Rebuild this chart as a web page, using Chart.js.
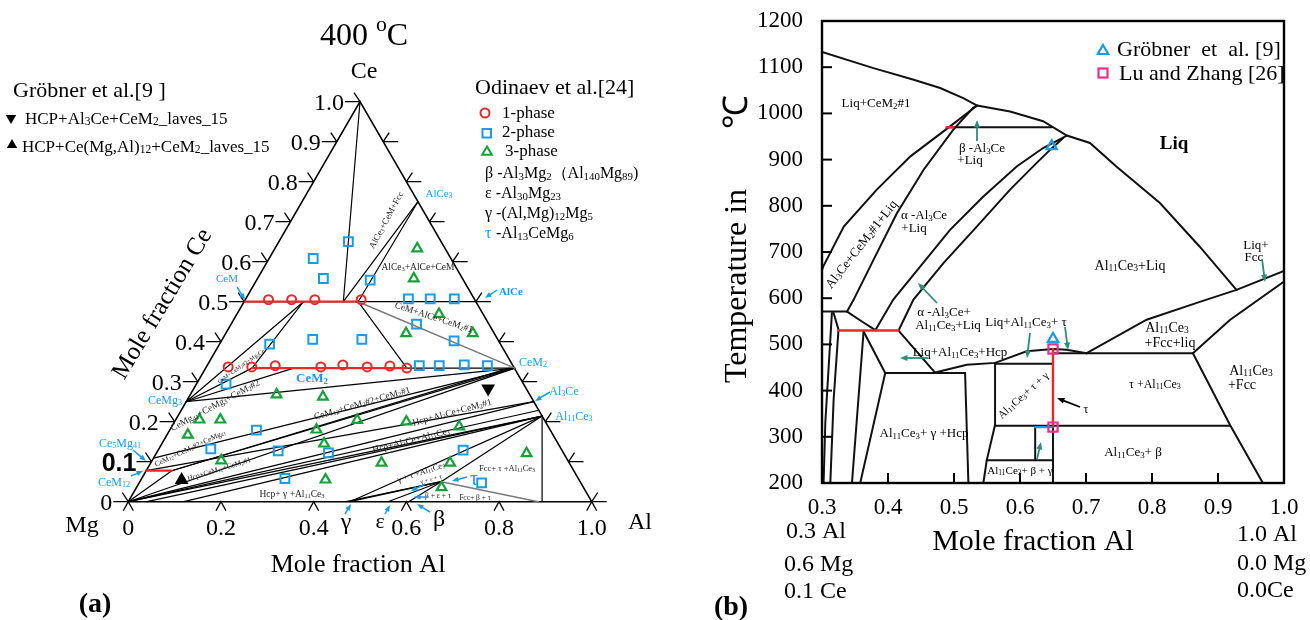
<!DOCTYPE html>
<html><head><meta charset="utf-8">
<script src="https://cdn.jsdelivr.net/npm/chart.js@4.4.1/dist/chart.umd.min.js"></script>
<style>
html,body{margin:0;padding:0;background:#fff;}
#wrap{position:relative;width:1310px;height:620px;overflow:hidden;}
#cA{position:absolute;left:0;top:0;}
#cB{position:absolute;left:655px;top:0;}
</style></head><body>
<div id="wrap"><canvas id="cA" width="655" height="620"></canvas><canvas id="cB" width="655" height="620"></canvas></div>
<script>
// ================= DATA: panel (a) ternary, compositions [x_Al, x_Ce] =================
const CE_TICKS = [0, 0.1, 0.2, 0.3, 0.4, 0.5, 0.6, 0.7, 0.8, 0.9, 1.0];
const AL_TICKS = [0, 0.2, 0.4, 0.6, 0.8, 1.0];
const TRIANGLE = [[0,0],[1,0],[0,1],[0,0]];
const ONE_PHASE = [[0.05,0.505],[0.10,0.505],[0.15,0.505],[0.25,0.505],
  [0.047,0.337],[0.098,0.337],[0.147,0.34],[0.247,0.337],[0.292,0.342],[0.347,0.337],[0.395,0.339],[0.434,0.334]];
const TWO_PHASE = [[0.15,0.65],[0.095,0.608],[0.142,0.558],[0.245,0.554],[0.351,0.507],[0.398,0.507],[0.45,0.507],
  [0.40,0.444],[0.502,0.402],[0.108,0.394],[0.195,0.406],[0.301,0.406],[0.458,0.34],[0.501,0.34],[0.554,0.342],
  [0.605,0.34],[0.064,0.294],[0.187,0.179],[0.112,0.132],[0.26,0.127],[0.371,0.122],[0.309,0.058],[0.658,0.129],[0.739,0.047]];
const THREE_PHASE = [[0.307,0.633],[0.337,0.558],[0.436,0.469],[0.389,0.421],[0.533,0.421],[0.186,0.268],[0.289,0.262],
  [0.051,0.205],[0.096,0.205],[0.045,0.167],[0.316,0.180],[0.392,0.204],[0.50,0.20],[0.62,0.188],[0.35,0.145],
  [0.149,0.103],[0.498,0.097],[0.646,0.097],[0.799,0.121],[0.398,0.055],[0.658,0.036]];
const GROBNER_DOWN = [[0.635,0.283]];
const GROBNER_UP = [[0.088,0.054]];
const RED_LINES_A = [
  [[0,0.5],[0.246,0.5]],
  [[0.1,0.334],[0.434,0.334]],
  [[0,0.0775],[0.055,0.0775]]
];
const GRAY_LINES_A = [
  [[0.246,0.5],[0.667,0.334]],
  [[0.65,0.05],[0.885,0]]
];
const BLACK_LINES_A = [
  [[0,1],[0.214,0.5]],
  [[0.25,0.75],[0.214,0.5]],
  [[0.25,0.75],[0.246,0.5]],
  [[0,0.5],[0.5,0.5]],
  [[0.246,0.5],[0.434,0.334]],
  [[0.1,0.334],[0.667,0.334]],
  [[0,0.25],[0.128,0.5]],
  [[0.1,0.334],[0.128,0.5]],
  [[0,0.25],[0.1,0.334]],
  [[0,0.25],[0.19,0.334]],
  [[0,0.25],[0.667,0.334]],
  [[0,0.109],[0.667,0.334]],
  [[0.055,0.0775],[0.667,0.334]],
  [[0.055,0.0775],[0.655,0.334]],
  [[0,0.0775],[0.75,0.25]],
  [[0,0],[0.055,0.0775]],
  [[0,0],[0.667,0.334]],
  [[0,0],[0.75,0.25]],
  [[0,0],[0.77,0.228]],
  [[0,0],[0.786,0.214]],
  [[0.04,0],[0.786,0.214]],
  [[0.12,0],[0.786,0.214]],
  [[0.478,0],[0.786,0.214]],
  [[0.478,0],[0.65,0.05]],
  [[0.47,0],[0.65,0.05]],
  [[0.56,0],[0.65,0.05]],
  [[0.605,0],[0.65,0.05]],
  [[0.65,0.05],[0.786,0.214]],
  [[0.786,0.214],[0.893,0]]
];

// ================= DATA: panel (b) isopleth [x_Al, T(°C)] =================
const X_TICKS_B = [0.3, 0.4, 0.5, 0.6, 0.7, 0.8, 0.9, 1.0];
const T_TICKS_B = [200, 300, 400, 500, 600, 700, 800, 900, 1000, 1100, 1200];
const LINES_B = [
  [[0.30,1133],[0.378,1098],[0.439,1073],[0.479,1055],[0.514,1033],[0.535,1017],[0.585,1004],[0.635,983],[0.671,952],[0.706,936],[0.746,885],[0.812,806],[0.872,712],[0.928,618]],
  [[0.535,1017],[0.494,972],[0.434,907],[0.383,835],[0.333,755],[0.302,669],[0.30,661]],
  [[0.535,1017],[0.529,1012],[0.499,965],[0.454,878],[0.4135,784],[0.378,683],[0.348,597],[0.338,571]],
  [[0.489,970],[0.648,970]],
  [[0.30,571],[0.338,571]],
  [[0.338,571],[0.361,549],[0.381,531]],
  [[0.381,531],[0.408,597],[0.449,669],[0.494,748],[0.5445,820],[0.595,885],[0.635,925],[0.671,952]],
  [[0.416,530],[0.4386,597],[0.484,676],[0.5345,755],[0.585,835],[0.6253,893],[0.6455,921],[0.665,946]],
  [[0.416,530],[0.4713,439]],
  [[0.4713,439],[0.5194,456],[0.5622,460],[0.610,485],[0.650,490],[0.6707,488.5],[0.701,481]],
  [[0.701,481],[0.7918,553.5],[0.8724,592],[0.928,618]],
  [[0.928,618],[1.0,659]],
  [[0.862,481],[0.918,553],[1.0,636]],
  [[0.65,481],[0.862,481]],
  [[0.862,481],[0.918,326],[0.968,200]],
  [[0.5622,458],[0.65,458]],
  [[0.5622,460],[0.5622,326],[0.5496,249],[0.5445,200]],
  [[0.5622,324],[0.918,324]],
  [[0.5496,249],[0.65,249]],
  [[0.623,324],[0.623,249]],
  [[0.65,321],[0.65,200]],
  [[0.3958,438],[0.5168,438]],
  [[0.5168,438],[0.5218,200]],
  [[0.3958,438],[0.3579,200]],
  [[0.363,528],[0.3958,438]],
  [[0.363,528],[0.3454,200]],
  [[0.315,568],[0.305,330],[0.3024,200]],
  [[0.3176,568],[0.325,532],[0.3176,380],[0.3126,200]]
];
const RED_B = [[[0.325,530],[0.416,530]], [[0.489,970],[0.499,970]], [[0.65,490],[0.65,321]]];
const BLUE_B = [[[0.623,321],[0.65,321]]];
const GROBNER_B = [[0.648,929],[0.65,512]];
const LU_B = [[0.65,490],[0.65,321]];

// ================= styles / helpers =================
const FONT = "'Liberation Serif','Times New Roman',serif";
const SANS = "'Liberation Sans',Arial,sans-serif";
const BLUE = '#1c9be3', RED = '#e52a2a', GREEN = '#16a03a', MAG = '#e2338a', TEAL = '#2f8c7a', GRAYL = '#7a7a7a';
Chart.defaults.font.family = FONT;
Chart.defaults.color = '#000';

function tern(p){ return {x: p[0] + p[1]/2, y: p[1]}; }
function xyB(p){ return {x: p[0], y: p[1]}; }
function lineDS(pts, color, width, conv){
  return {data: pts.map(conv), showLine: true, borderColor: color, borderWidth: width, pointRadius: 0,
          pointHoverRadius: 0, fill: false, tension: 0, borderCapStyle: 'round'};
}
function markDS(pts, style, color, r, conv, extra){
  return Object.assign({data: pts.map(conv), showLine: false, pointStyle: style, pointRadius: r,
    pointBorderColor: color, pointBackgroundColor: 'rgba(255,255,255,0)', pointBorderWidth: 2,
    borderColor: color, backgroundColor: 'rgba(0,0,0,0)'}, extra || {});
}
function parseRich(s){
  const segs = []; let i = 0, cur = '';
  while (i < s.length){
    const c = s[i];
    if ((c === '_' || c === '^') && s[i+1] === '{'){
      if (cur){ segs.push({t: cur, m: 'n'}); cur = ''; }
      const j = s.indexOf('}', i);
      segs.push({t: s.slice(i+2, j), m: c === '_' ? 'sub' : 'sup'});
      i = j + 1;
    } else { cur += c; i++; }
  }
  if (cur) segs.push({t: cur, m: 'n'});
  return segs;
}
function drawRich(ctx, s, x, y, o){
  o = o || {};
  const size = o.size || 12, fam = o.family || FONT, wt = o.bold ? 'bold ' : '';
  const segs = parseRich(s);
  ctx.save();
  ctx.translate(x, y);
  if (o.rot) ctx.rotate(o.rot * Math.PI / 180);
  ctx.textBaseline = 'alphabetic'; ctx.textAlign = 'left';
  let w = 0;
  segs.forEach(g => { g.size = g.m === 'n' ? size : size * 0.68; ctx.font = wt + g.size + 'px ' + fam; g.w = ctx.measureText(g.t).width; w += g.w; });
  let cx = o.align === 'left' ? 0 : (o.align === 'right' ? -w : -w/2);
  const base = size * 0.34;
  segs.forEach(g => {
    ctx.font = wt + g.size + 'px ' + fam; ctx.fillStyle = o.color || '#000';
    const dy = g.m === 'sub' ? size * 0.1 : (g.m === 'sup' ? -size * 0.42 : 0);
    ctx.fillText(g.t, cx, base + dy);
    cx += g.w;
  });
  ctx.restore();
}
function arrow(ctx, a, color, w, head){
  const [x1,y1,x2,y2] = a;
  ctx.save(); ctx.strokeStyle = color; ctx.fillStyle = color; ctx.lineWidth = w;
  const ang = Math.atan2(y2-y1, x2-x1);
  ctx.beginPath(); ctx.moveTo(x1,y1); ctx.lineTo(x2 - head*0.7*Math.cos(ang), y2 - head*0.7*Math.sin(ang)); ctx.stroke();
  ctx.beginPath(); ctx.moveTo(x2,y2);
  ctx.lineTo(x2 - head*Math.cos(ang-0.38), y2 - head*Math.sin(ang-0.38));
  ctx.lineTo(x2 - head*Math.cos(ang+0.38), y2 - head*Math.sin(ang+0.38));
  ctx.closePath(); ctx.fill(); ctx.restore();
}
function tri(ctx, x, y, r, down, fill, stroke, lw){
  ctx.save(); ctx.beginPath();
  const s = down ? -1 : 1;
  ctx.moveTo(x, y - s*r); ctx.lineTo(x + 0.866*r, y + s*0.5*r); ctx.lineTo(x - 0.866*r, y + s*0.5*r); ctx.closePath();
  if (fill){ ctx.fillStyle = fill; ctx.fill(); }
  if (stroke){ ctx.strokeStyle = stroke; ctx.lineWidth = lw; ctx.stroke(); }
  ctx.restore();
}

// ================= annotation layout (page pixels) =================
const TEXT_A = [
  {t:'400 ^{o}C', x:364, y:34, size:32},
  {t:'Ce', x:364, y:70, size:24},
  {t:'Mg', x:82, y:524, size:24},
  {t:'Al', x:640, y:521, size:24},
  {t:'Mole fraction Al', x:358, y:563, size:26},
  {t:'Mole fraction Ce', x:161, y:303, size:25, rot:-59},
  {t:'(a)', x:95, y:602, size:28, bold:true},
  {t:'Gröbner et al.[9 ]', x:13, y:90, size:22, align:'left'},
  {t:'HCP+Al_{3}Ce+CeM_{2}_laves_15', x:25, y:118, size:17, align:'left'},
  {t:'HCP+Ce(Mg,Al)_{12}+CeM_{2}_laves_15', x:22, y:146, size:17, align:'left'},
  {t:'Odinaev et al.[24]', x:475, y:87, size:22, align:'left'},
  {t:'1-phase', x:502, y:112, size:17, align:'left'},
  {t:'2-phase', x:502, y:131, size:17, align:'left'},
  {t:'3-phase', x:505, y:150, size:17, align:'left'},
  {t:'β -Al_{3}Mg_{2}（Al_{140}Mg_{89})', x:485, y:173, size:16, align:'left'},
  {t:'ε -Al_{30}Mg_{23}', x:485, y:193, size:16, align:'left'},
  {t:'γ -(Al,Mg)_{12}Mg_{5}', x:485, y:213, size:16, align:'left'},
  {t:'τ', x:485, y:233, size:16, align:'left', color:BLUE},
  {t:'-Al_{13}CeMg_{6}', x:496, y:233, size:16, align:'left'},
  {t:'AlCe_{3}', x:439, y:193, size:11, color:BLUE},
  {t:'CeM', x:227, y:278, size:11, color:BLUE},
  {t:'AlCe', x:511, y:291, size:11, color:BLUE, bold:true},
  {t:'CeM_{2}', x:312, y:378, size:13, color:BLUE, bold:true},
  {t:'CeM_{2}', x:533, y:362, size:12, color:BLUE},
  {t:'Al_{3}Ce', x:564, y:391, size:12, color:BLUE},
  {t:'Al_{11}Ce_{3}', x:574, y:416, size:12, color:BLUE},
  {t:'CeMg_{3}', x:165, y:400, size:12, color:BLUE},
  {t:'Ce_{5}Mg_{41}', x:120, y:443, size:12, color:BLUE},
  {t:'CeM_{12}', x:114, y:482, size:12, color:BLUE},
  {t:'τ', x:474, y:478, size:20, color:BLUE},
  {t:'γ', x:346, y:521, size:24}, {t:'ε', x:380, y:521, size:22}, {t:'β', x:439, y:518, size:24},
  {t:'AlCe_{3}+CeM+Fcc', x:386, y:220, size:9, rot:-62, color:'#222'},
  {t:'AlCe_{3}+AlCe+CeM', x:418, y:267, size:9.5, color:'#222'},
  {t:'CeM+AlCe+CeM_{2}#1', x:434, y:317, size:9.5, rot:18, color:'#222'},
  {t:'CeM+CeM_{2}#2+Mg_{3}Ce', x:241, y:366, size:6, rot:-35, color:'#222'},
  {t:'CeMg_{41}+CeMg_{3}+CeM_{2}#2', x:215, y:405, size:9.5, rot:-28, color:'#222'},
  {t:'CeM_{12}+CeM_{2}#2+CeMg_{41}', x:190, y:448, size:7.5, rot:-25, color:'#222'},
  {t:'Hcp+CeM_{12}+CeM_{2}#1', x:219, y:469, size:7.5, rot:-17, color:'#222'},
  {t:'CeM_{12}+CeM_{2}#2+CeM_{2}#1', x:362, y:403, size:9.5, rot:-16, color:'#222'},
  {t:'Hcp+Al_{3}Ce+CeM_{2}#1', x:452, y:412, size:9.5, rot:-15, color:'#222'},
  {t:'Hcp+Al_{3}Ce+Al_{11}Ce_{3}', x:411, y:440, size:9.5, rot:-14, color:'#222'},
  {t:'Hcp+ γ +Al_{11}Ce_{3}', x:292, y:494, size:9.5, color:'#222'},
  {t:'γ + τ +Al_{11}Ce_{3}', x:421, y:472, size:8.5, rot:-18, color:'#222'},
  {t:'γ + ε + τ', x:431, y:479, size:6.5, rot:-15, color:'#222'},
  {t:'β + ε + τ', x:438, y:495, size:7.5, color:'#222'},
  {t:'Fcc+ β + τ', x:475, y:497, size:7.5, color:'#222'},
  {t:'Fcc+ τ +Al_{11}Ce_{3}', x:507, y:468, size:8.5, color:'#222'}
];
const ARROWS_A = [[237,287,245,300],[497,290,485,298],[550,392,535,401],[133,450,146,461],[131,476,143,471],
  [467,477,452,481],[345,514,351,504],[385,514,390,505],[430,512,417,504],[425,484,411,491],[428,497,414,497]];
const TEXT_B = [
  {t:'Liq+CeM_{2}#1', x:876, y:103, size:13},
  {t:'β -Al_{3}Ce', x:982, y:148, size:13}, {t:'+Liq', x:970, y:160, size:13},
  {t:'α -Al_{3}Ce', x:924, y:215, size:13}, {t:'+Liq', x:914, y:228, size:13},
  {t:'Al_{3}Ce+CeM_{2}#1+Liq', x:861, y:244, size:13, rot:-52},
  {t:'α -Al_{3}Ce+', x:944, y:312, size:13}, {t:'Al_{11}Ce_{3}+Liq', x:948, y:325, size:13},
  {t:'Liq+Al_{11}Ce_{3}+Hcp', x:960, y:352, size:13},
  {t:'Liq', x:1174, y:143, size:19, bold:true},
  {t:'Al_{11}Ce_{3}+Liq', x:1130, y:265, size:14},
  {t:'Liq+', x:1256, y:245, size:13}, {t:'Fcc', x:1254, y:257, size:13},
  {t:'Liq+Al_{11}Ce_{3}+ τ', x:1026, y:322, size:13},
  {t:'Al_{11}Ce_{3}', x:1167, y:327, size:14}, {t:'+Fcc+liq', x:1170, y:342, size:14},
  {t:'Al_{11}Ce_{3}', x:1251, y:370, size:14}, {t:'+Fcc', x:1242, y:384, size:14},
  {t:'τ +Al_{11}Ce_{3}', x:1155, y:384, size:12},
  {t:'Al_{11}Ce_{3}+ τ + γ', x:1023, y:395, size:11, rot:-42},
  {t:'Al_{11}Ce_{3}+ γ +Hcp', x:924, y:433, size:13},
  {t:'Al_{11}Ce_{3}+ β', x:1133, y:452, size:13},
  {t:'Al_{11}Ce_{3}+ β + γ', x:1020, y:470, size:11},
  {t:'τ', x:1086, y:409, size:12},
  {t:'Mole fraction Al', x:1033, y:540, size:30},
  {t:'Temperature in', x:735, y:286, size:32, rot:-90},
  {t:'℃', x:735, y:112, size:34, rot:-90},
  {t:'0.3 Al', x:786, y:530, size:24, align:'left'}, {t:'0.6 Mg', x:784, y:563, size:24, align:'left'}, {t:'0.1 Ce', x:784, y:590, size:24, align:'left'},
  {t:'1.0 Al', x:1237, y:533, size:24, align:'left'}, {t:'0.0 Mg', x:1237, y:562, size:24, align:'left'}, {t:'0.0Ce', x:1237, y:589, size:24, align:'left'},
  {t:'(b)', x:731, y:605, size:28, bold:true},
  {t:'Gröbner  et  al. [9]', x:1117, y:49, size:22, align:'left'},
  {t:'Lu and Zhang [26]', x:1119, y:73, size:22, align:'left'}
];
const ARROWS_B = [[977,141,977,120,TEAL],[937,303,918,283,TEAL],[928,358,900,358,TEAL],[1030,333,1027,358,TEAL],
  [1065,327,1068,350,TEAL],[1080,407,1057,398,'#000'],[1037,459,1041,442,TEAL],[1262,259,1265,282,TEAL]];

// ================= panel (a) plugin =================
const ternDecor = {
  id: 'ternDecor',
  afterDraw(chart){
    const ctx = chart.ctx, xs = chart.scales.x, ys = chart.scales.y;
    const P = (al, ce) => [xs.getPixelForValue(al + ce/2), ys.getPixelForValue(ce)];
    ctx.save(); ctx.strokeStyle = '#000'; ctx.lineWidth = 1.3;
    CE_TICKS.forEach(c => {
      const [x, y] = P(0, c);
      ctx.beginPath(); ctx.moveTo(x - 15, y); ctx.lineTo(x, y); ctx.moveTo(x, y); ctx.lineTo(x - 6, y - 9); ctx.stroke();
      const lab = c === 0 ? '0' : c.toFixed(1);
      if (c === 0.1) drawRich(ctx, lab, x - 15, y + 1, {size: 25, bold: true, family: SANS, align: 'right'});
      else drawRich(ctx, lab, x - 16, y, {size: 24, align: 'right'});
      if (c < 1){
        const [xr, yr] = P(1 - c, c);
        ctx.beginPath(); ctx.moveTo(xr, yr); ctx.lineTo(xr + 15, yr); ctx.moveTo(xr, yr); ctx.lineTo(xr + 6, yr - 9); ctx.stroke();
      }
    });
    AL_TICKS.forEach(a => {
      const [x, y] = P(a, 0);
      ctx.beginPath(); ctx.moveTo(x - 5, y + 9); ctx.lineTo(x, y); ctx.lineTo(x + 5, y + 9); ctx.stroke();
      drawRich(ctx, a === 0 ? '0' : a.toFixed(1), x, y + 25, {size: 24});
    });
    ctx.restore();
    TEXT_A.forEach(o => drawRich(ctx, o.t, o.x, o.y, o));
    ARROWS_A.forEach(a => arrow(ctx, a, BLUE, 1.5, 7));
    tri(ctx, 11, 118, 6, true, '#000');
    tri(ctx, 12, 145, 6, false, '#000');
    ctx.save();
    ctx.strokeStyle = RED; ctx.lineWidth = 2; ctx.beginPath(); ctx.arc(485, 113, 4.5, 0, 2*Math.PI); ctx.stroke();
    ctx.strokeStyle = BLUE; ctx.strokeRect(482.5, 129, 8.5, 8.5);
    ctx.restore();
    tri(ctx, 487, 152, 5.5, false, null, GREEN, 2);
  }
};

// ================= panel (b) plugin =================
const isoDecor = {
  id: 'isoDecor',
  afterDraw(chart){
    const ctx = chart.ctx, a = chart.chartArea, xs = chart.scales.x, ys = chart.scales.y;
    ctx.save(); ctx.strokeStyle = '#000'; ctx.lineWidth = 2.4;
    ctx.strokeRect(a.left, a.top, a.right - a.left, a.bottom - a.top);
    ctx.lineWidth = 2;
    X_TICKS_B.slice(1, -1).forEach(v => { const x = xs.getPixelForValue(v); ctx.beginPath(); ctx.moveTo(x, a.bottom); ctx.lineTo(x, a.bottom - 10); ctx.stroke(); });
    T_TICKS_B.slice(1, -1).forEach(v => { const y = ys.getPixelForValue(v); ctx.beginPath(); ctx.moveTo(a.left, y); ctx.lineTo(a.left + 10, y); ctx.stroke(); });
    ctx.restore();
    const off = 655;
    TEXT_B.forEach(o => drawRich(ctx, o.t, o.x - off, o.y, o));
    ARROWS_B.forEach(r => arrow(ctx, [r[0]-off, r[1], r[2]-off, r[3]], r[4], 1.8, 8));
    tri(ctx, 1103 - off, 51, 6, false, null, BLUE, 2.2);
    ctx.save(); ctx.strokeStyle = MAG; ctx.lineWidth = 2.2; ctx.strokeRect(1098.5 - off, 68.5, 9, 9); ctx.restore();
  }
};

// ================= charts =================
new Chart(document.getElementById('cA'), {
  type: 'scatter',
  data: {datasets: [
    markDS(GROBNER_DOWN, 'triangle', '#000', 6, tern, {pointBackgroundColor: '#000', pointRotation: 180}),
    markDS(GROBNER_UP, 'triangle', '#000', 6, tern, {pointBackgroundColor: '#000'}),
    markDS(ONE_PHASE, 'circle', RED, 4.5, tern),
    markDS(TWO_PHASE, 'rect', BLUE, 6.2, tern),
    markDS(THREE_PHASE, 'triangle', GREEN, 5.6, tern, {pointBorderWidth: 2.2}),
    ...RED_LINES_A.map(l => lineDS(l, RED, 2.3, tern)),
    ...GRAY_LINES_A.map(l => lineDS(l, GRAYL, 1.5, tern)),
    ...BLACK_LINES_A.map(l => lineDS(l, '#000', 1.2, tern)),
    lineDS(TRIANGLE, '#000', 1.6, tern)
  ]},
  options: {
    responsive: false, animation: false, events: [],
    layout: {padding: 0, autoPadding: false},
    plugins: {legend: {display: false}, tooltip: {enabled: false}},
    scales: {
      x: {type: 'linear', display: false, min: -0.27687, max: 1.13659},
      y: {type: 'linear', display: false, min: -0.29575, max: 1.25425}
    }
  },
  plugins: [ternDecor]
});

new Chart(document.getElementById('cB'), {
  type: 'scatter',
  data: {datasets: [
    markDS(GROBNER_B, 'triangle', BLUE, 6, xyB, {pointBorderWidth: 2.2}),
    markDS(LU_B, 'rect', MAG, 6.5, xyB, {pointBorderWidth: 2.2}),
    ...RED_B.map(l => lineDS(l, RED, 2.4, xyB)),
    ...BLUE_B.map(l => lineDS(l, BLUE, 2.4, xyB)),
    ...LINES_B.map(l => lineDS(l, '#111', 2, xyB))
  ]},
  options: {
    responsive: false, animation: false, events: [],
    layout: {padding: {top: 21, right: 26, left: 0, bottom: 0}, autoPadding: false},
    plugins: {legend: {display: false}, tooltip: {enabled: false}},
    scales: {
      x: {type: 'linear', min: 0.3, max: 1.0,
          afterFit(s){ s.height = 137; s.paddingLeft = 0; s.paddingRight = 0; },
          afterBuildTicks(s){ s.ticks = X_TICKS_B.map(v => ({value: v})); },
          ticks: {callback: v => Number(v).toFixed(1), font: {family: FONT, size: 23}, color: '#000', padding: 11, maxRotation: 0, autoSkip: false},
          grid: {display: false, drawTicks: false}, border: {display: false}},
      y: {type: 'linear', min: 200, max: 1200,
          afterFit(s){ s.width = 167; s.paddingTop = 0; s.paddingBottom = 0; },
          afterBuildTicks(s){ s.ticks = T_TICKS_B.map(v => ({value: v})); },
          ticks: {callback: v => String(v), font: {family: FONT, size: 23}, color: '#000', padding: 19, autoSkip: false},
          grid: {display: false, drawTicks: false}, border: {display: false}}
    }
  },
  plugins: [isoDecor]
});
</script>
</body></html>
